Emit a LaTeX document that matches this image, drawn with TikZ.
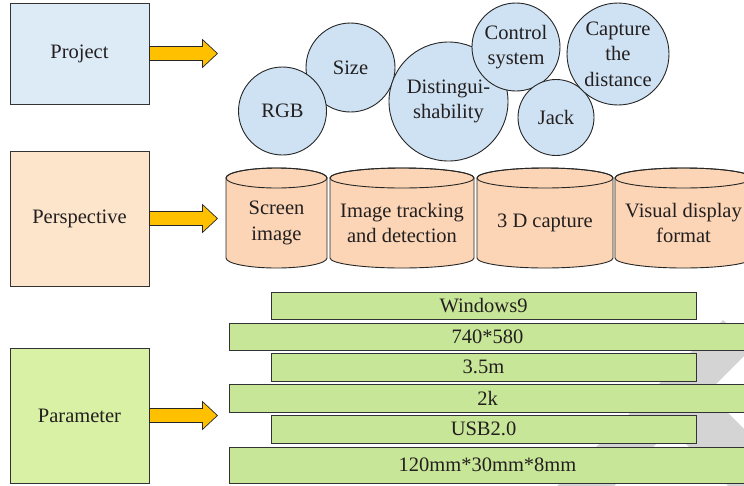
\documentclass[tikz,border=0pt]{standalone}
\usepackage{fontspec}
\setmainfont{Liberation Serif}
\usetikzlibrary{calc}

\definecolor{projfill}{HTML}{DDEBF7}
\definecolor{perspfill}{HTML}{FDE5CB}
\definecolor{paramfill}{HTML}{D8F1A4}
\definecolor{bubblefill}{HTML}{CFE2F3}
\definecolor{drumfill}{HTML}{FBD5B5}
\definecolor{barfill}{HTML}{C8E697}
\definecolor{arrowfill}{HTML}{FFC000}
\definecolor{inkline}{HTML}{333333}
\definecolor{inktext}{HTML}{231F20}
\definecolor{wmgray}{HTML}{D4D4D4}

% block arrow leaving the east side of a category box
\newcommand\blockarrow[1]{%
  \filldraw[arrowstyle] ($(#1.east)+(0,-7)$) -- ++(53,0) -- ++(0,-7)
    -- ++(15,14) -- ++(-15,14) -- ++(0,-7) -- ++(-53,0) -- cycle;}

% upright drum: name, left x, right x, label
\newcommand\drum[4]{%
  \filldraw[drumstyle] (#2,178) -- (#2,258)
    arc[start angle=180, end angle=360, x radius={(#3-#2)/2*1pt}, y radius=10pt]
    -- (#3,178)
    arc[start angle=0, end angle=180, x radius={(#3-#2)/2*1pt}, y radius=10pt]
    -- cycle;
  \draw[drumstyle, fill=none] ({(#2+#3)/2},178)
    ellipse[x radius={(#3-#2)/2*1pt}, y radius=10pt];
  \node[align=center] (#1) at ({(#2+#3)/2},223) {#4};}

\begin{document}
\begin{tikzpicture}[x=1pt, y=-1pt,
  font=\fontsize{20.5}{25.5}\selectfont,
  every node/.style={text=inktext},
  catbox/.style={draw=inkline, line width=0.9pt, inner sep=0pt, align=center,
    minimum width=139pt},
  bubble/.style={circle, draw=black!85, line width=0.9pt, fill=bubblefill,
    inner sep=0pt, align=center},
  drumstyle/.style={draw=black!85, line width=0.9pt, fill=drumfill},
  barbox/.style={draw=inkline, line width=0.9pt, fill=barfill, inner sep=0pt},
  arrowstyle/.style={draw=black!85, line width=0.7pt, fill=arrowfill}]
\useasboundingbox (0,0) rectangle (744,485);

% faint background mark behind the parameter bars
\begin{scope}
  \clip (0,0) rectangle (744,485);
  \fill[wmgray] (723,320) -- (751.5,348.5) -- (600,500) -- (543,500) -- cycle;
  \fill[wmgray] (642.5,400.5) -- (679,364) -- (815,500) -- (742,500) -- cycle;
\end{scope}

% category boxes
\node[catbox, fill=projfill, minimum height=101pt] (project) at (79.5,53.5) {Project};
\node[catbox, fill=perspfill, minimum height=135pt] (perspective) at (79.5,218.5) {Perspective};
\node[catbox, fill=paramfill, minimum height=135pt] (parameter) at (79.5,415.5) {Parameter};

\blockarrow{project}
\blockarrow{perspective}
\blockarrow{parameter}

% project bubbles
\node[bubble, minimum size=89pt] (size) at (350.5,67.5) {Size};
\node[bubble, minimum size=88pt] (rgb) at (282.5,111) {RGB};
\node[bubble, minimum size=119pt] (dist) at (448.5,101.5) {Distingui-\\shability};
\node[bubble, minimum size=88pt] (ctrl) at (516,47) {Control\\system};
\node[bubble, minimum size=76pt] (jack) at (556,117.5) {Jack};
\node[bubble, minimum size=102pt] (capture) at (618,54) {Capture\\the\\distance};

% perspective drums
\drum{screen}{226}{327}{Screen\\image}
\drum{tracking}{330}{474}{Image tracking\\and detection}
\drum{capture3d}{477}{613}{3 D capture}
\drum{visual}{615}{752}{Visual display\\format}

% parameter bars
\node[barbox, minimum width=425pt, minimum height=27pt] (os) at (483.5,305.5) {Windows9};
\node[barbox, minimum width=517pt, minimum height=27pt] (res) at (487.5,336.5) {740*580};
\node[barbox, minimum width=425pt, minimum height=28pt] (range) at (483.5,367) {3.5m};
\node[barbox, minimum width=517pt, minimum height=28pt] (rate) at (487.5,398) {2k};
\node[barbox, minimum width=425pt, minimum height=28pt] (port) at (483.5,429) {USB2.0};
\node[barbox, minimum width=517pt, minimum height=36pt] (dims) at (487.5,465) {120mm*30mm*8mm};
\end{tikzpicture}
\end{document}
